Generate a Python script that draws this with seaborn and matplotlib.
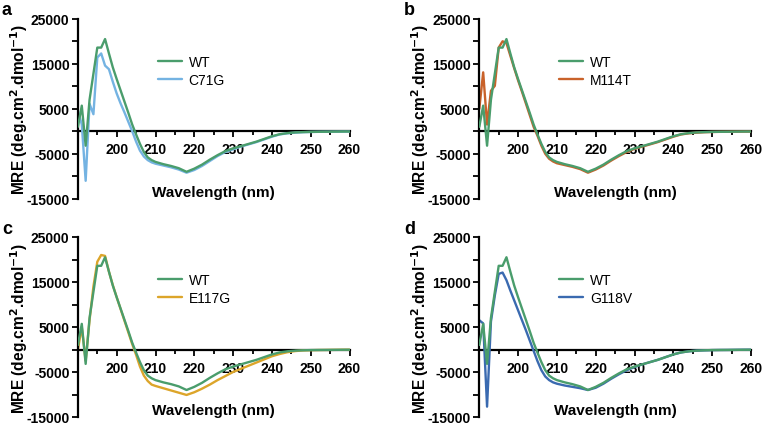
import numpy as np
import pandas as pd
import matplotlib
matplotlib.use("Agg")
import matplotlib.pyplot as plt
from matplotlib.ticker import MultipleLocator, FixedLocator, FixedFormatter
import seaborn as sns

sns.set_theme(style="white")
plt.rcParams['font.family'] = ['Liberation Sans', 'DejaVu Sans']
plt.rcParams['text.color'] = 'black'
plt.rcParams['axes.labelcolor'] = 'black'
plt.rcParams['xtick.color'] = 'black'
plt.rcParams['ytick.color'] = 'black'

# ---------------- data ----------------
wavelength = [190, 191, 192, 193, 194, 195, 196, 197, 198, 199, 200,
              201, 202, 203, 204, 205, 206, 207, 208, 209, 210,
              212, 214, 216, 218, 220, 222, 224, 226, 228, 230,
              232, 234, 236, 238, 240, 242, 244, 246, 248, 250,
              252, 254, 256, 258, 260]

wt = [1000, 5700, -3200, 7000, 12800, 18600, 18600, 20500, 17300, 14200, 11600,
      9100, 6600, 4100, 1500, -700, -2800, -4600, -5800, -6400, -6800,
      -7300, -7700, -8200, -9000, -8300, -7400, -6300, -5300, -4400, -3800,
      -3300, -2800, -2300, -1700, -1100, -650, -400, -250, -180, -130,
      -110, -100, -80, -60, -50]

c71g = [4600, 1500, -11000, 6100, 3800, 16400, 17300, 14600, 13800, 11000, 8400,
        6200, 4200, 2100, 0, -2300, -4300, -5600, -6400, -6900, -7200,
        -7600, -8000, -8500, -9200, -8600, -7700, -6600, -5500, -4600, -4000,
        -3400, -2900, -2400, -1800, -1200, -700, -450, -300, -200, -150,
        -120, -100, -80, -60, -50]

m114t = [5000, 13100, 1500, 9000, 10100, 18600, 20000, 19600, 16800, 14000, 11300,
         8800, 6200, 3600, 1000, -1000, -3200, -5000, -6100, -6700, -7100,
         -7500, -7900, -8400, -9200, -8500, -7600, -6500, -5500, -4600, -3900,
         -3400, -2900, -2400, -1800, -1200, -700, -450, -300, -200, -150,
         -120, -100, -80, -60, -50]

e117g = [0, 5000, -2500, 6500, 14000, 19500, 21000, 20800, 17300, 14300, 11600,
         9000, 6400, 3800, 1200, -1200, -3800, -5800, -7000, -7800, -8100,
         -8600, -9100, -9600, -10100, -9500, -8700, -7800, -6800, -5900, -5000,
         -4300, -3600, -2900, -2200, -1500, -1000, -600, -350, -200, -150,
         -120, -100, -80, -60, -50]

g118v = [6500, 5800, -12700, 6200, 12000, 16800, 17100, 15400, 13100, 10900, 8700,
         6500, 4300, 2000, -300, -2600, -4600, -6000, -6800, -7300, -7600,
         -8000, -8300, -8600, -9000, -8500, -7600, -6500, -5500, -4600, -3900,
         -3300, -2800, -2300, -1700, -1100, -650, -400, -250, -180, -130,
         -110, -100, -80, -60, -50]

panel_letters = ["a", "b", "c", "d"]
mutant_names = ["C71G", "M114T", "E117G", "G118V"]
mutant_values = [c71g, m114t, e117g, g118v]

wt_color = "#4A9D6C"
mutant_colors = ["#74B3E2", "#C9622A", "#DCA52A", "#3A6AB0"]

ytick_vals = [25000, 20000, 15000, 10000, 5000, 0, -5000, -10000, -15000]
ytick_labels = ["25000", "", "15000", "", "5000", "", "-5000", "", "-15000"]
xtick_vals = [200, 210, 220, 230, 240, 250, 260]

# ---------------- layout ----------------
W, H = 765, 427
fig = plt.figure(figsize=(W / 100, H / 100), dpi=100)

ax_w = 271.6 / W
ax_h = 180 / H
lefts = [77.9 / W, 479.3 / W]
bottoms = [1 - 199.8 / H, 1 - 418.0 / H]
positions = [(lefts[0], bottoms[0]), (lefts[1], bottoms[0]),
             (lefts[0], bottoms[1]), (lefts[1], bottoms[1])]
letter_pos = [(2 / W, 1 - 15 / H), (404 / W, 1 - 15 / H),
              (2 / W, 1 - 234 / H), (404 / W, 1 - 234 / H)]

for i in range(4):
    ax = fig.add_axes([positions[i][0], positions[i][1], ax_w, ax_h])
    name = mutant_names[i]
    df = pd.DataFrame({
        "Wavelength": wavelength * 2,
        "MRE": wt + mutant_values[i],
        "Protein": ["WT"] * len(wavelength) + [name] * len(wavelength),
    })
    sns.lineplot(data=df, x="Wavelength", y="MRE", hue="Protein",
                 hue_order=["WT", name],
                 palette={"WT": wt_color, name: mutant_colors[i]},
                 linewidth=1.7, ax=ax, legend=False)
    wt_line, mut_line = ax.lines[0], ax.lines[1]
    wt_line.set_zorder(3)
    mut_line.set_zorder(2)

    ax.set_xlim(190, 260)
    ax.set_ylim(-15000, 25000)
    ax.set_facecolor("none")
    for s in ["top", "right"]:
        ax.spines[s].set_visible(False)
    ax.spines["bottom"].set_position(("data", 0))
    ax.spines["left"].set_linewidth(1.6)
    ax.spines["bottom"].set_linewidth(1.6)
    ax.spines["left"].set_color("black")
    ax.spines["bottom"].set_color("black")
    ax.spines["bottom"].set_zorder(1)

    ax.xaxis.set_major_locator(FixedLocator(xtick_vals))
    ax.xaxis.set_minor_locator(MultipleLocator(5))
    ax.yaxis.set_major_locator(FixedLocator(ytick_vals))
    ax.yaxis.set_major_formatter(FixedFormatter(ytick_labels))
    ax.tick_params(axis="both", which="both", direction="out", color="black",
                   labelcolor="black", width=1.3, bottom=True, left=True)
    ax.tick_params(axis="x", which="major", length=4, pad=4,
                   labelsize=10)
    ax.tick_params(axis="x", which="minor", length=3)
    ax.tick_params(axis="y", which="major", length=4, pad=2,
                   labelsize=10)
    for lab in ax.get_xticklabels() + ax.get_yticklabels():
        lab.set_fontweight("bold")

    ax.set_xlabel("")
    ax.set_ylabel("")
    ax.text(0.5, 0.038, "Wavelength (nm)", transform=ax.transAxes,
            ha="center", va="center", fontsize=11, fontweight="bold",
            color="black")
    ax.text(-0.218, 0.5, r"MRE (deg.cm$^{\mathbf{2}}$.dmol$^{\mathbf{-1}}$)",
            transform=ax.transAxes, rotation=90, ha="center", va="center",
            fontsize=11.2, fontweight="bold", color="black")

    leg = ax.legend([wt_line, mut_line], ["WT", name], loc="center left",
                    bbox_to_anchor=(0.295, 0.71), frameon=False, fontsize=10,
                    handlelength=1.7, handletextpad=0.5, labelspacing=0.3,
                    borderpad=0, borderaxespad=0)
    for t in leg.get_texts():
        t.set_color("black")

    fig.text(letter_pos[i][0], letter_pos[i][1], panel_letters[i],
             fontsize=13, fontweight="bold", va="baseline", ha="left",
             color="black")

fig.savefig("out.png", dpi=100)
